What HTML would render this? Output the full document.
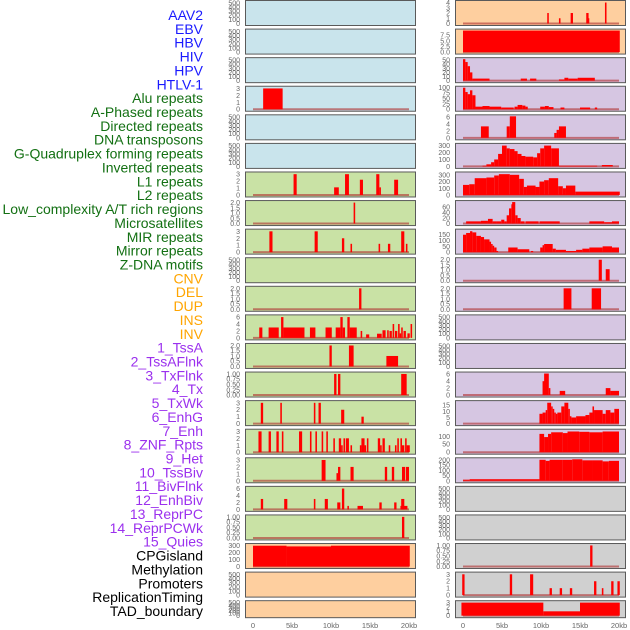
<!DOCTYPE html>
<html><head><meta charset="utf-8"><style>
html,body{margin:0;padding:0;background:#fff;width:630px;height:630px;overflow:hidden}
svg{display:block;font-family:"Liberation Sans",sans-serif}
</style></head><body>
<svg id="chart" width="630" height="630"></svg>
<script>
const labels=["AAV2","EBV","HBV","HIV","HPV","HTLV-1","Alu repeats","A-Phased repeats","Directed repeats","DNA transposons","G-Quadruplex forming repeats","Inverted repeats","L1 repeats","L2 repeats","Low_complexity A/T rich regions","Microsatellites","MIR repeats","Mirror repeats","Z-DNA motifs","CNV","DEL","DUP","INS","INV","1_TssA","2_TssAFlnk","3_TxFlnk","4_Tx","5_TxWk","6_EnhG","7_Enh","8_ZNF_Rpts","9_Het","10_TssBiv","11_BivFlnk","12_EnhBiv","13_ReprPC","14_ReprPCWk","15_Quies","CPGisland","Methylation","Promoters","ReplicationTiming","TAD_boundary"];
const labelGroups=[6,13,5,15,5];
const xTicks=[0,5,10,15,20];
const xTickLabels=["0","5kb","10kb","15kb","20kb"];
const E=[0,100,200,300,400,500];
const leftTicks=[E,E,E,[0,1,2,3],E,E,[0,1,2,3],[0,0.5,1,1.5,2],[0,1,2,3],E,[0,0.5,1,1.5,2],[0,2,4,6],[0,0.5,1,1.5,2],[0,0.25,0.5,0.75,1],[0,1,2,3],[0,1,2,3],[0,1,2,3],[0,2,4,6],[0,0.25,0.5,0.75,1],[0,100,200,300],E,E];
const leftMax=[520,520,520,3.1,520,520,3.1,2.05,3.1,520,2.05,6.2,2.05,1.02,3.1,3.1,3.1,6.2,1.02,310,520,520];
const leftBg=["b","b","b","b","b","b","g","g","g","g","g","g","g","g","g","g","g","g","g","o","o","o"];
const leftBars=[[],[],[],[[1.3,3.8,3]],[],[],
[[5.2,5.6,3],[10.4,11.0,1.1],[11.8,12.3,3],[13.7,14.1,2.2],[15.8,16.2,3],[16.2,16.4,1.1],[18.1,18.6,2.2]],
[[12.9,13.1,2]],
[[2.1,2.5,3],[7.9,8.3,3],[11.4,11.7,2],[12.5,12.7,1.2],[16.1,16.3,1.2],[17.3,17.6,1.2],[19.0,19.4,3],[19.6,19.8,1.2]],
[],
[[13.6,13.9,2]],
[[0.8,1.2,3],[2.0,3.3,3],[3.6,3.9,6],[3.9,6.6,3],[7.3,8.0,3],[9.3,10.1,3],[10.6,11.2,3],[11.2,11.5,6],[11.5,11.8,3],[12.1,12.4,6],[12.4,13.3,3],[13.8,14.0,2],[14.5,14.9,1],[15.9,16.5,1.2],[16.6,17.0,2.2],[17.2,17.4,2.2],[17.9,18.1,4],[18.2,18.5,2],[18.6,18.8,4],[19.0,19.2,3],[19.3,19.6,2],[19.8,20.1,1.3],[20.2,20.4,4],[17.5,17.8,2],[18.8,19.0,1.3]],
[[9.8,10.1,2],[12.3,12.9,2],[17.1,18.6,1]],
[[10.4,10.7,1],[10.9,11.2,1],[19.0,19.7,1]],
[[1.0,1.3,3],[3.5,3.7,3],[7.8,8.0,3],[8.4,8.7,3],[11.3,11.7,2],[13.9,14.2,1]],
[[0.7,1.1,3],[2.0,2.3,3],[3.0,3.3,3],[3.7,3.9,3],[5.9,6.3,3],[7.3,7.5,3],[8.0,8.2,3],[8.8,9.0,3],[9.4,9.6,3],[10.3,10.5,2],[11.0,11.3,2],[11.3,11.5,1],[11.6,11.8,2],[11.9,12.3,2],[12.5,12.7,1],[13.7,13.9,1],[13.9,14.3,2],[14.3,14.5,1],[14.6,14.8,2],[16.0,16.3,2],[16.3,16.5,1],[16.6,16.9,2],[17.4,17.6,1],[18.2,18.4,1],[18.5,18.7,2],[18.9,19.1,2],[19.1,19.4,1],[19.5,19.7,2],[19.7,20.1,1]],
[[8.8,9.3,3],[10.7,10.9,1.1],[10.9,11.2,2],[12.5,12.9,2],[16.9,17.2,2],[17.8,18.1,2],[19.1,19.5,2],[19.6,20.0,2]],
[[1.0,1.3,3],[4.0,4.4,3],[7.8,8.0,3],[9.2,9.6,3],[10.8,11.2,2],[11.4,11.7,6],[12.1,12.3,1],[13.4,14.1,1],[16.2,16.5,2],[18.1,18.4,2],[19.0,19.4,3],[18.9,19.8,1]],
[[19.1,19.4,1]],
[[0,4.3,300],[4.3,10.0,290],[10.0,20.1,300]],
[],[]];
const rightTicks=[[0,1,2,3,4],[0,2.5,5,7.5],[0,10,20,30,40,50],[0,25,50,75,100],[0,2,4,6],[0,100,200,300],[0,100,200,300],[0,20,40,60],[0,50,100,150],[0,0.5,1,1.5,2],[0,0.5,1,1.5,2],E,E,[0,2,4,6],[0,5,10,15],[0,50,100],[0,50,100,150,200],E,E,[0,0.25,0.5,0.75,1],[0,1,2,3],[0,1,2,3]];
const rightMax=[4.1,9.5,52,100,6.2,310,320,78,185,2.05,2.05,520,520,6.2,17.5,135,205,520,520,1.02,3.1,3.1];
const rightBg=["o","o","p","p","p","p","p","p","p","p","p","p","p","p","p","p","p","x","x","x","x","x"];
const rightBars=[
[[10.8,11.0,2],[12.3,12.5,1],[13.8,14.1,2],[15.8,16.1,2],[16.0,16.1,1],[18.2,18.4,4]],
[[0,20.1,9.5]],
[[0,0.3,52],[0.3,0.6,45],[0.6,0.9,35],[0.9,1.2,20],[1.2,3.4,5],[7.4,8.2,5],[8.6,9.4,5],[12.3,13,3],[13,13.5,7],[13.5,14.7,5],[14.7,16.9,7]],
[[0,0.3,100],[0.3,0.6,80],[0.6,0.9,70],[0.9,1.2,88],[1.2,1.6,65],[1.6,2.5,12],[2.5,3.4,15],[3.4,4.9,12],[4.9,6.5,8],[6.6,7.0,12],[7.0,7.6,20],[7.6,8.0,17],[8.0,8.3,12],[9.9,10.5,12],[10.5,11.0,15],[11.0,11.6,10],[12.5,13.0,8],[15.0,16.3,8],[16.9,17.2,8]],
[[2.3,3.3,3.3],[5.6,6.0,3.3],[6.0,6.8,6.2],[11.7,12.0,1.4],[12.0,12.3,2.3],[12.3,13.2,3.3]],
[[2.5,3.0,10],[3.0,3.6,30],[3.6,4.0,60],[4.0,4.5,100],[4.5,5.0,180],[5.0,5.6,300],[5.6,6.0,260],[6.0,6.6,250],[6.6,7.0,220],[7.0,7.5,180],[7.5,8.0,150],[8.0,9.0,140],[9.0,9.5,130],[9.5,9.9,190],[9.9,10.4,260],[10.4,11.3,300],[11.3,12.3,260],[12.3,17.2,10],[17.8,19.2,20]],
[[0,0.8,150],[0.8,1.5,160],[1.5,3.0,250],[3.0,4.0,260],[4.0,4.6,290],[4.6,6.0,310],[6.0,7.2,300],[7.2,7.8,240],[7.8,8.2,120],[8.2,9.3,140],[9.3,9.8,120],[9.8,10.4,200],[10.4,11.0,220],[11.0,12.2,250],[12.2,12.8,130],[12.8,13.2,100],[13.2,14.4,140],[14.4,20.1,50]],
[[0.4,2.3,8],[2.3,3.2,10],[3.2,3.8,17],[3.8,4.3,8],[4.3,4.9,8],[4.9,5.3,14],[5.3,5.6,8],[5.6,5.9,30],[5.9,6.2,55],[6.2,6.3,70],[6.3,6.7,78],[6.7,7.0,30],[7.0,7.4,20],[7.4,7.9,8],[8.0,9.7,8],[9.8,12.4,8],[16.2,18.1,8],[18.1,19.1,5],[19.1,20.0,8]],
[[0,0.4,150],[0.4,0.9,165],[0.9,1.2,180],[1.2,1.7,170],[1.7,2.3,140],[2.3,2.7,130],[2.7,3.4,110],[3.4,3.6,90],[3.6,3.8,70],[3.8,4.0,55],[4.0,4.3,40],[4.3,4.5,10],[5.8,7.0,40],[7.0,8.5,25],[8.7,9.0,10],[9.9,10.2,40],[10.2,10.4,60],[10.4,11.5,70],[11.5,11.9,30],[11.9,13.2,20],[13.2,14.5,10],[14.5,15.3,20],[15.3,16.2,30],[16.2,17.9,40],[17.9,19.1,50],[19.1,20.0,40]],
[[17.4,17.8,2],[18.3,18.8,1.1]],
[[12.9,13.9,2],[16.5,17.7,2]],
[],[],
[[10.2,10.6,4],[10.4,11.0,6.2],[11.0,11.2,2],[12.4,13.1,1.2],[18.3,18.9,2],[18.9,20.0,1.2]],
[[9.8,10.2,8],[10.2,10.6,9],[10.6,10.8,11],[10.8,11.3,17],[11.3,11.5,14],[11.5,11.7,12],[11.7,11.9,9],[11.9,12.1,8],[12.1,12.6,9],[12.6,13.0,14],[13.0,13.5,17],[13.5,13.7,12],[13.7,13.9,6],[13.9,14.5,5],[14.5,15.7,6],[15.7,16.2,7],[16.2,16.6,9],[16.6,16.8,14],[16.8,17.9,11],[17.9,18.3,8],[18.3,18.9,11],[18.9,19.4,9],[19.4,20.0,12]],
[[9.8,10.4,115],[10.4,10.9,95],[10.9,11.3,115],[11.3,12.8,125],[12.8,13.4,120],[13.4,14.9,130],[14.9,16.2,128],[16.2,17.9,125],[17.9,20.0,130]],
[[0,0.85,10],[0.85,9.8,15],[9.8,10.6,200],[10.6,11.1,190],[11.1,12.8,200],[12.8,14.0,200],[14.0,15.3,205],[15.3,16.6,195],[16.6,17.9,195],[17.9,18.7,185],[18.7,20.0,190]],
[],[],
[[16.3,16.6,1]],
[[-0.1,0.2,3],[6.0,6.3,3],[8.6,9.0,3],[11.1,11.4,1],[12.4,12.7,1],[13.7,14.0,1],[16.8,17.1,2],[17.8,18.0,1],[19.0,19.3,2],[19.8,20.1,2]],
[[-0.2,10.3,3],[10.3,15.0,1],[15.0,20.1,3]]];

const svg=document.getElementById('chart');
const NS='http://www.w3.org/2000/svg';
function mk(tag,attrs,parent){const e=document.createElementNS(NS,tag);for(const k in attrs)e.setAttribute(k,attrs[k]);(parent||svg).appendChild(e);return e;}
const bgCol={b:"#c9e4ec",g:"#c9e2a5",o:"#fecf9f",p:"#d6c6e2",x:"#d0d0d0"};
const groupCol=["#1a1aff","#137013","#ffa500","#9b30ee","#000000"];

let li=0;
labelGroups.forEach((n,gi)=>{for(let k=0;k<n;k++){const t=mk('text',{x:203,y:20+li*13.86,'text-anchor':'end','font-size':'14',fill:groupCol[gi]});


t.textContent=labels[li];li++;}});

function rowTop(i){return i*28.58;}
function rowH(i){return i===21?17:25;}
function fmt(v,ticks){const hasFrac=ticks.some(t=>t%1!==0);if(!hasFrac)return String(v);const dec=ticks.some(t=>Math.round(t*100)%10!==0)?2:1;return v.toFixed(dec);}

function drawCol(px,ticks,maxs,bgs,bars,colName){
  const x0=px+8, sx=7.8;
  const xs=kb=>x0+kb*sx;
  for(let i=0;i<22;i++){
    const top=rowTop(i)+0.5,h=rowH(i);
    const g=mk('g',{});
    
    
    mk('rect',{x:px+0.5,y:top,width:170,height:h,fill:bgCol[bgs[i]],stroke:'#5a5a5a','stroke-width':1},g);
    const yb=top+h-2, yt=top+1.5;
    const ys=v=>yb-(v/maxs[i])*(yb-yt);
    if(bars[i].length){mk('line',{x1:xs(0),x2:xs(20),y1:yb,y2:yb,stroke:'#b03030','stroke-width':2,opacity:0.6},g);}
    bars[i].forEach(b=>{const r=mk('rect',{x:xs(b[0]),y:ys(b[2]),width:Math.max(1.5,(b[1]-b[0])*sx),height:yb-ys(b[2]),fill:'#ff0000'},g);
      
      });
    ticks[i].forEach(v=>{const t=mk('text',{x:px-5,y:ys(v)+2.5,'text-anchor':'end','font-size':'7',fill:'#666'},g);
      
      
      t.textContent=fmt(v,ticks[i]);});
  }
  xTicks.forEach((v,k)=>{const t=mk('text',{x:xs(v),y:628,'text-anchor':'middle','font-size':'7.5',fill:'#666'});
    
    
    t.textContent=xTickLabels[k];});
}
drawCol(245,leftTicks,leftMax,leftBg,leftBars,'left');
drawCol(455,rightTicks,rightMax,rightBg,rightBars,'right');
</script>
</body></html>
